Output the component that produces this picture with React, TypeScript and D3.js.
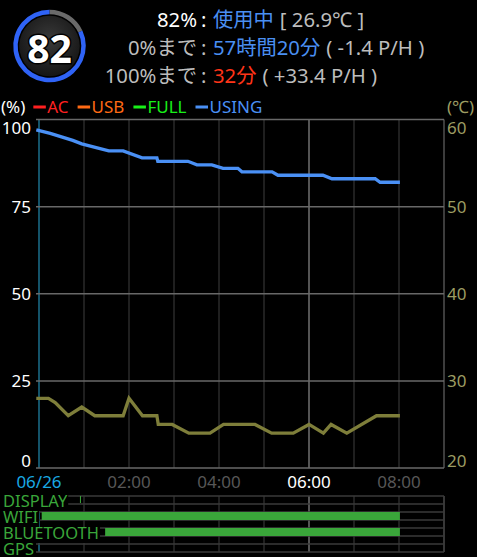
import React, { useEffect, useRef } from "react";
import * as d3 from "d3";

// ---------- data ----------
const batteryNow = 82;
const statusLabels = ["82%", "0%まで", "100%まで"];
const statusValues = ["使用中", "57時間20分", "32分"];
const statusNotes = ["[ 26.9℃ ]", "( -1.4 P/H )", "( +33.4 P/H )"];

const legendItems = ["AC", "USB", "FULL", "USING"];

const leftTicks = [0, 25, 50, 75, 100];
const rightTicks = [20, 30, 40, 50, 60];
const gridHours = [0, 1, 2, 3, 4, 5, 6, 7, 8];
const labelHours = [0, 2, 4, 6, 8];
const labelTexts = ["06/26", "02:00", "04:00", "06:00", "08:00"];
const currentHour = 6;

const batteryHours = [-0.06, 0.25, 0.5, 0.75, 0.95, 1.25, 1.55, 1.87, 2.29, 2.62, 2.64, 3.31, 3.51, 3.84, 4.09, 4.42, 4.51, 5.18, 5.31, 6.31, 6.51, 7.47, 7.58, 8.02];
const batteryLevel = [97, 96, 95, 94, 93, 92, 91, 91, 89, 89, 88, 88, 87, 87, 86, 86, 85, 85, 84, 84, 83, 83, 82, 82];

const tempHours = [-0.06, 0.21, 0.36, 0.65, 0.95, 1.24, 1.87, 2.0, 2.3, 2.62, 2.65, 2.96, 3.33, 3.8, 4.1, 4.8, 5.17, 5.65, 6.0, 6.32, 6.49, 6.84, 7.5, 8.02];
const tempValues = [28, 28, 27.5, 26, 27, 26, 26, 28, 26, 26, 25, 25, 24, 24, 25, 25, 24, 24, 25, 24, 25, 24, 26, 26];

const deviceNames = ["DISPLAY", "WIFI", "BLUETOOTH", "GPS"];
const deviceSpans: [number, number][][] = [
  [[0.91, 0.93]],
  [[0.06, 8.02]],
  [[1.47, 8.02]],
  [],
];

const FONT = "'Noto Sans', 'Noto Sans CJK JP', sans-serif";

export default function App() {
  const ref = useRef<SVGSVGElement>(null);

  useEffect(() => {
    const svg = d3.select(ref.current);
    svg.selectAll("*").remove();
    svg.style("font-family", FONT);

    // ---------- gauge ----------
    const gx = 49.5, gy = 46;
    const defs = svg.append("defs");
    const rg = defs.append("radialGradient").attr("id", "disc").attr("cx", "50%").attr("cy", "40%").attr("r", "60%");
    rg.append("stop").attr("offset", "0%").attr("stop-color", "#3a3a3a");
    rg.append("stop").attr("offset", "100%").attr("stop-color", "#151515");
    const g0 = svg.append("g").attr("transform", `translate(${gx},${gy})`);
    const frac = (100 - batteryNow) / 100;
    const arc = d3.arc<any>().innerRadius(31.8).outerRadius(36.3);
    g0.append("path").attr("d", arc({ startAngle: 0, endAngle: frac * 2 * Math.PI }) as string).attr("fill", "#6a6a6a");
    g0.append("path").attr("d", arc({ startAngle: frac * 2 * Math.PI, endAngle: 2 * Math.PI }) as string).attr("fill", "#2f63f6");
    g0.append("circle").attr("r", 30.3).attr("fill", "url(#disc)");
    g0.append("text").attr("x", 0).attr("y", 1).attr("text-anchor", "middle").attr("dominant-baseline", "central")
      .attr("font-size", 39).attr("font-weight", "bold").attr("fill", "#fff")
      .attr("stroke", "#000").attr("stroke-width", 3).attr("paint-order", "stroke")
      .text(String(batteryNow));

    // ---------- status lines ----------
    const gray = "#bdbdbd";
    const valueColors = ["#4a8ff2", "#4a8ff2", "#ff3418"];
    statusLabels.forEach((lab, i) => {
      const y = 26.5 + i * 28.4;
      svg.append("text").attr("x", 197).attr("y", y).attr("text-anchor", "end").attr("font-size", 20.3)
        .attr("fill", i === 0 ? "#ffffff" : gray).text(lab);
      svg.append("text").attr("x", 201).attr("y", y).attr("font-size", 20.3)
        .attr("fill", i === 0 ? "#ffffff" : gray).text(":");
      const t = svg.append("text").attr("x", 213).attr("y", y).attr("font-size", 20.3);
      t.append("tspan").attr("fill", valueColors[i]).text(statusValues[i]);
      t.append("tspan").attr("fill", gray).attr("dx", 6).text(statusNotes[i]);
    });

    // ---------- scales ----------
    const left = 36, right = 444, top = 119.5, bottom = 468;
    const x = d3.scaleLinear().domain([-4 / 60, 9]).range([left, right]);
    const yL = d3.scaleLinear().domain([0, 100]).range([bottom, top]);
    const yR = d3.scaleLinear().domain([20, 60]).range([bottom, top]);

    // ---------- legend ----------
    const legendColors = ["#ff2020", "#ff6a14", "#18f018", "#4a90f5"];
    const ly = 113;
    const pct = svg.append("text").attr("x", 1).attr("y", ly).attr("font-size", 17).attr("fill", "#fff").text("(%)");
    let cx = 1 + (pct.node() as SVGTextElement).getComputedTextLength() + 8;
    legendItems.forEach((name, i) => {
      svg.append("line").attr("x1", cx).attr("x2", cx + 12.5).attr("y1", ly - 6).attr("y2", ly - 6)
        .attr("stroke", legendColors[i]).attr("stroke-width", 3);
      const tt = svg.append("text").attr("x", cx + 14).attr("y", ly).attr("font-size", 17).attr("fill", legendColors[i]).text(name);
      cx = cx + 14 + (tt.node() as SVGTextElement).getComputedTextLength() + 9;
    });
    svg.append("text").attr("x", 474).attr("y", ly).attr("text-anchor", "end").attr("font-size", 17).attr("fill", "#9c9c62").text("(℃)");

    // ---------- grid ----------
    const grid = svg.append("g");
    gridHours.forEach((h) => {
      const col = h === 0 ? "#1b6f8c" : h === currentHour ? "#707070" : "#2a2a2a";
      grid.append("line").attr("x1", x(h)).attr("x2", x(h)).attr("y1", top).attr("y2", bottom)
        .attr("stroke", col).attr("stroke-width", 1.5);
    });
    grid.append("line").attr("x1", right).attr("x2", right).attr("y1", top).attr("y2", bottom)
      .attr("stroke", "#505050").attr("stroke-width", 1.5);
    leftTicks.forEach((v) => {
      grid.append("line").attr("x1", left).attr("x2", right).attr("y1", yL(v)).attr("y2", yL(v))
        .attr("stroke", "#686868").attr("stroke-width", 1.5);
    });

    // tick labels
    const clampY = (y: number) => Math.max(top + 7.5, Math.min(bottom - 8, y));
    leftTicks.forEach((v) => {
      svg.append("text").attr("x", 31).attr("y", clampY(yL(v))).attr("text-anchor", "end")
        .attr("dominant-baseline", "central").attr("font-size", 17).attr("fill", "#fff").text(String(v));
    });
    rightTicks.forEach((v) => {
      svg.append("text").attr("x", 447).attr("y", clampY(yR(v))).attr("text-anchor", "start")
        .attr("dominant-baseline", "central").attr("font-size", 17).attr("fill", "#9c9c62").text(String(v));
    });
    labelHours.forEach((h, i) => {
      const col = i === 0 ? "#19a9e3" : h === currentHour ? "#ffffff" : "#575757";
      svg.append("text").attr("x", x(h)).attr("y", 488).attr("text-anchor", "middle")
        .attr("font-size", 17).attr("fill", col).text(labelTexts[i]);
    });

    // ---------- lines ----------
    const tempLine = d3.line<number>().x((_, i) => x(tempHours[i])).y((d) => yR(d));
    svg.append("path").attr("d", tempLine(tempValues) as string).attr("fill", "none")
      .attr("stroke", "#7e7e3a").attr("stroke-width", 3.3).attr("stroke-linejoin", "miter");
    const batLine = d3.line<number>().x((_, i) => x(batteryHours[i])).y((d) => yL(d));
    svg.append("path").attr("d", batLine(batteryLevel) as string).attr("fill", "none")
      .attr("stroke", "#4a90f5").attr("stroke-width", 3.3);

    // ---------- device panel ----------
    const pTop = 496, rowH = 16, nRows = deviceNames.length;
    const pBottom = pTop + rowH * (nRows - 0.5);
    const panel = svg.append("g");
    gridHours.forEach((h) => {
      const col = h === 0 ? "#1b6f8c" : h === currentHour ? "#707070" : "#2a2a2a";
      panel.append("line").attr("x1", x(h)).attr("x2", x(h)).attr("y1", pTop).attr("y2", pBottom)
        .attr("stroke", col).attr("stroke-width", 1.5);
    });
    panel.append("line").attr("x1", right).attr("x2", right).attr("y1", pTop).attr("y2", pBottom)
      .attr("stroke", "#4a4a4a").attr("stroke-width", 1.5);
    d3.range(0, nRows * 2).forEach((k) => {
      const yy = pTop + k * rowH / 2;
      if (yy > pBottom) return;
      panel.append("line").attr("x1", left).attr("x2", right).attr("y1", yy).attr("y2", yy)
        .attr("stroke", "#3a3a3a").attr("stroke-width", 1.5);
    });
    deviceSpans.forEach((spans, r) => {
      spans.forEach(([a, b]) => {
        panel.append("rect").attr("x", x(a)).attr("y", pTop + r * rowH).attr("width", Math.max(1, x(b) - x(a)))
          .attr("height", r === 0 ? 7 : rowH / 2).attr("fill", "#3aa63a");
      });
    });
    deviceNames.forEach((name, r) => {
      const bgG = panel.append("g");
      const t = panel.append("text").attr("x", 3).attr("y", pTop + r * rowH + 10.7).attr("font-size", 16.5)
        .attr("fill", "#3aa63a").text(name);
      const w = (t.node() as SVGTextElement).getComputedTextLength();
      if (r < nRows - 1) {
        bgG.append("rect").attr("x", 0).attr("y", pTop + r * rowH - 1).attr("width", w + 4).attr("height", rowH)
          .attr("fill", "#000");
      }
    });
  }, []);

  return (
    <div style={{ position: "fixed", left: 0, top: 0, width: 477, height: 557, background: "#000" }}>
      <svg ref={ref} width={477} height={557} style={{ display: "block" }} />
    </div>
  );
}
